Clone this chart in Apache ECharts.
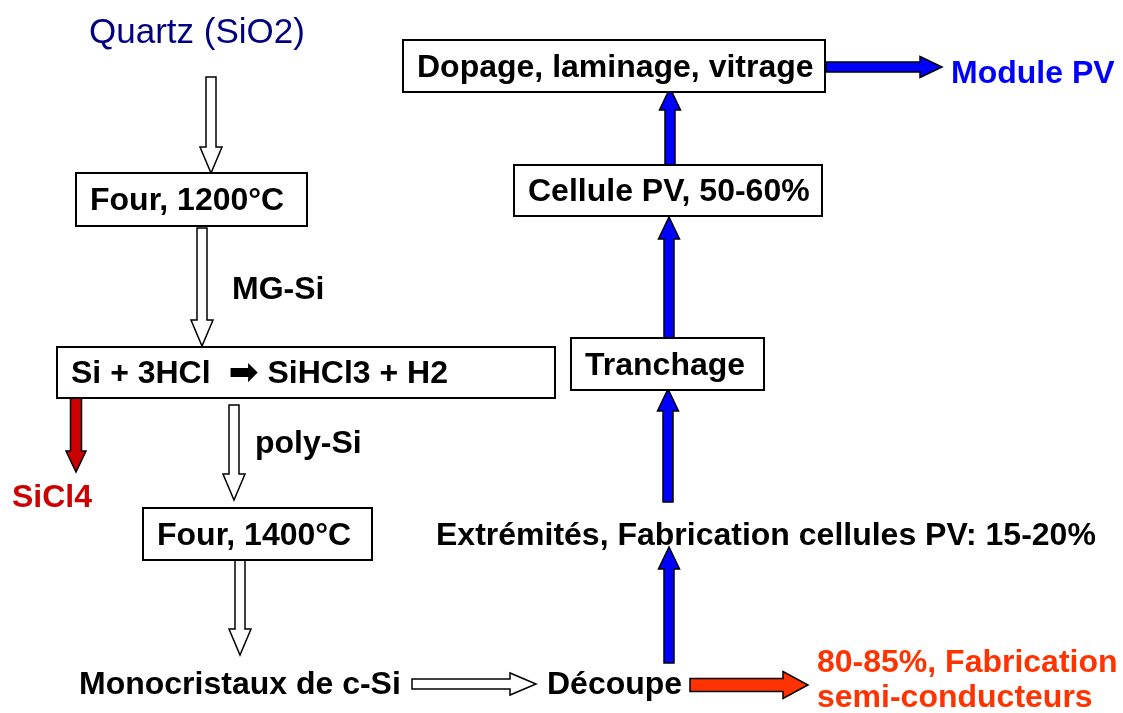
<!DOCTYPE html>
<html>
<head>
<meta charset="utf-8">
<script src="https://cdn.jsdelivr.net/npm/echarts@6/dist/echarts.min.js"></script>
<style>
  html, body { margin: 0; padding: 0; background: #fff; }
  #chart { width: 1123px; height: 713px; }
</style>
</head>
<body>
<div id="chart"></div>
<script>
// process steps drawn in boxes
const stepLabels = [
  'Four, 1200°C',
  'Si + 3HCl  ➔ SiHCl3 + H2',
  'Four, 1400°C',
  'Dopage, laminage, vitrage',
  'Cellule PV, 50-60%',
  'Tranchage'
]
// free text (inputs, outputs, flow names)
const noteLabels = [
  'Quartz (SiO2)',
  'MG-Si',
  'poly-Si',
  'SiCl4',
  'Monocristaux de c-Si',
  'Découpe',
  'Extrémités, Fabrication cellules PV: 15-20%',
  'Module PV',
  '80-85%, Fabrication',
  'semi-conducteurs'
]
const noteKinds = ['source', 'flow', 'flow', 'loss', 'flow', 'flow', 'flow', 'product', 'other', 'other']
// arrows: kind of each link
const arrowKinds = ['main', 'main', 'loss', 'main', 'main', 'main', 'other', 'pv', 'pv', 'pv', 'pv', 'pv']

// layout (pixel units of the hidden axes)
const boxLayout = [
  [76, 173, 307, 226],
  [57, 347, 555, 398],
  [143, 508, 372, 560],
  [403, 40, 825, 92],
  [514, 165, 822, 216],
  [571, 338, 764, 390]
]
const noteLayout = [
  [197, 33, 'center'],
  [232, 290, 'left'],
  [255, 444, 'left'],
  [52, 498, 'center'],
  [79, 685, 'left'],
  [547, 685, 'left'],
  [436, 536, 'left'],
  [951, 74, 'left'],
  [817, 663, 'left'],
  [817, 698, 'left']
]
const arrowLayout = [
  [211, 77, 211, 173],
  [202, 228, 202, 346],
  [76, 396, 76, 472],
  [234, 405, 234, 500],
  [240, 560, 240, 655],
  [412, 684, 536, 684],
  [690, 685, 808, 685],
  [669, 663, 669, 547],
  [668, 502, 668, 389],
  [669, 338, 669, 217],
  [670, 165, 670, 88],
  [826, 67, 942, 67]
]

const arrowStyle = {
  main:  { fill: '#ffffff', shaft: 10, head: 22, len: 26 },
  loss:  { fill: '#cc0000', shaft: 11, head: 20, len: 21 },
  other: { fill: '#ff3300', shaft: 13, head: 27, len: 25 },
  pv:    { fill: '#0000ff', shaft: 10, head: 21, len: 22 }
}
const noteStyle = {
  source:  { color: '#000080', fontWeight: 'normal', fontSize: 35 },
  flow:    { color: '#000000', fontWeight: 'bold', fontSize: 32 },
  loss:    { color: '#cc0000', fontWeight: 'bold', fontSize: 32 },
  product: { color: '#0000ff', fontWeight: 'bold', fontSize: 32 },
  other:   { color: '#ff3300', fontWeight: 'bold', fontSize: 32 }
}
const FONT = 'Liberation Sans, Arial, DejaVu Sans, sans-serif'

const chart = echarts.init(document.getElementById('chart'))

chart.setOption({
  backgroundColor: '#ffffff',
  animation: false,
  grid: { left: 0, right: 0, top: 0, bottom: 0 },
  xAxis: { type: 'value', min: 0, max: 1123, show: false },
  yAxis: { type: 'value', min: 0, max: 713, inverse: true, show: false },
  series: [
    {
      type: 'custom',
      name: 'arrows',
      data: arrowLayout.map((a, i) => a.concat([i])),
      renderItem(params, api) {
        const i = api.value(4)
        const st = arrowStyle[arrowKinds[i]]
        const p0 = api.coord([api.value(0), api.value(1)])
        const p1 = api.coord([api.value(2), api.value(3)])
        const dx = p1[0] - p0[0], dy = p1[1] - p0[1]
        const L = Math.sqrt(dx * dx + dy * dy)
        const ux = dx / L, uy = dy / L
        const nx = -uy, ny = ux
        const neck = [p1[0] - ux * st.len, p1[1] - uy * st.len]
        const s = st.shaft / 2, h = st.head / 2
        const pts = [
          [p0[0] + nx * s, p0[1] + ny * s],
          [neck[0] + nx * s, neck[1] + ny * s],
          [neck[0] + nx * h, neck[1] + ny * h],
          p1,
          [neck[0] - nx * h, neck[1] - ny * h],
          [neck[0] - nx * s, neck[1] - ny * s],
          [p0[0] - nx * s, p0[1] - ny * s]
        ]
        return {
          type: 'polygon',
          shape: { points: pts },
          style: { fill: st.fill, stroke: '#000000', lineWidth: 1.5 }
        }
      }
    },
    {
      type: 'custom',
      name: 'steps',
      data: boxLayout.map((b, i) => b.concat([i])),
      renderItem(params, api) {
        const i = api.value(4)
        const a = api.coord([api.value(0), api.value(1)])
        const b = api.coord([api.value(2), api.value(3)])
        return {
          type: 'group',
          children: [
            {
              type: 'rect',
              shape: { x: a[0], y: a[1], width: b[0] - a[0], height: b[1] - a[1] },
              style: { fill: '#ffffff', stroke: '#000000', lineWidth: 2 }
            },
            {
              type: 'text',
              x: a[0] + 14,
              y: (a[1] + b[1]) / 2 + 2,
              style: {
                text: stepLabels[i].replace('➔', '{arr|➡}'),
                fill: '#000000',
                font: 'bold 32px ' + FONT,
                align: 'left',
                verticalAlign: 'middle',
                rich: {
                  arr: {
                    fontFamily: 'DejaVu Sans',
                    fontWeight: 'bold',
                    fontSize: 36,
                    fill: '#000000'
                  }
                }
              }
            }
          ]
        }
      }
    },
    {
      type: 'custom',
      name: 'notes',
      data: noteLayout.map((n, i) => [n[0], n[1], i]),
      renderItem(params, api) {
        const i = api.value(2)
        const st = noteStyle[noteKinds[i]]
        const p = api.coord([api.value(0), api.value(1)])
        return {
          type: 'text',
          x: p[0],
          y: p[1],
          style: {
            text: noteLabels[i],
            fill: st.color,
            font: st.fontWeight + ' ' + st.fontSize + 'px ' + FONT,
            align: noteLayout[i][2],
            verticalAlign: 'middle'
          }
        }
      }
    }
  ]
})
</script>
</body>
</html>
